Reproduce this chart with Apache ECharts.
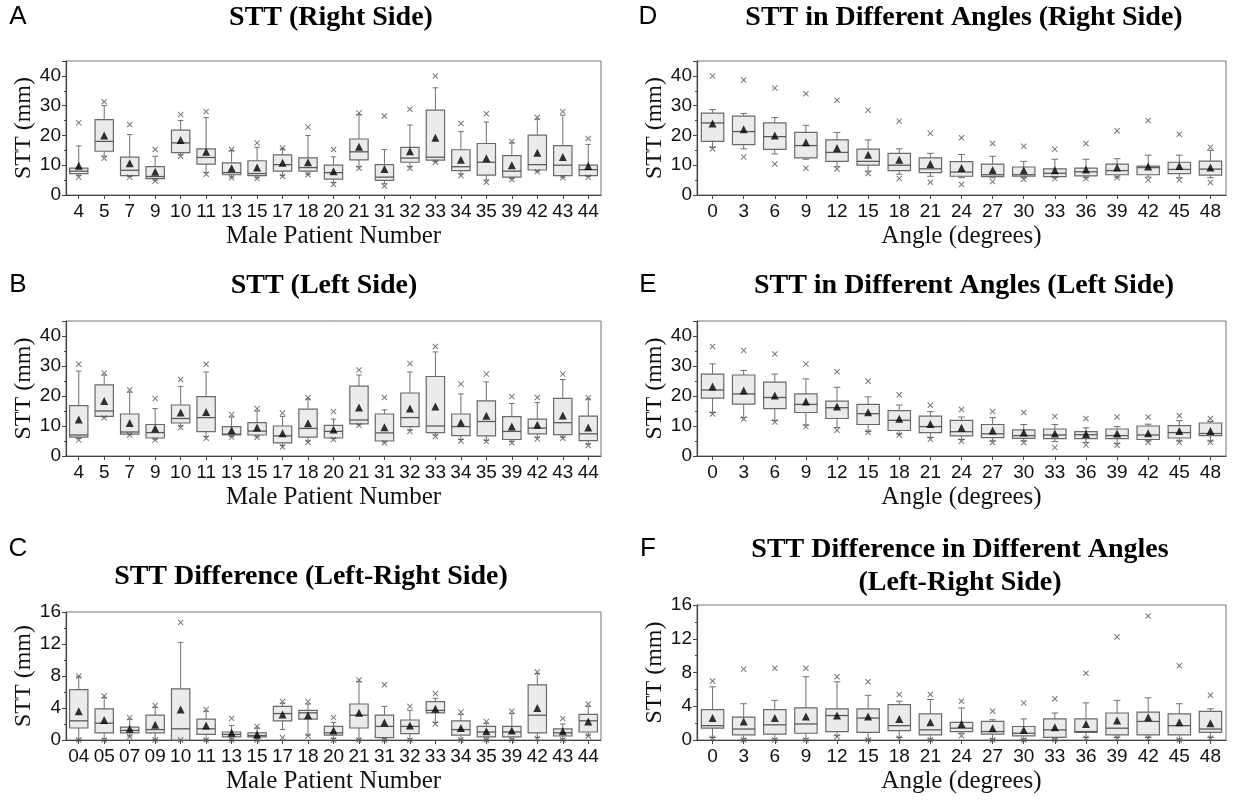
<!DOCTYPE html>
<html><head><meta charset="utf-8">
<script src="https://cdn.jsdelivr.net/npm/echarts@6/dist/echarts.min.js"></script>
<style>html,body{margin:0;padding:0;background:#fff}#c{width:1234px;height:800px}</style>
</head><body><div id="c"></div>
<script>
// ---------- categories ----------
const patients = ['4','5','7','9','10','11','13','15','17','18','20','21','31','32','33','34','35','39','42','43','44'];
const patientsC = ['04','05','07','09','10','11','13','15','17','18','20','21','31','32','33','34','35','39','42','43','44'];
const angles = ['0','3','6','9','12','15','18','21','24','27','30','33','36','39','42','45','48'];

// ---------- Panel A: STT right side [whiskerLow, Q1, median, Q3, whiskerHigh] ----------
const statsA = [[6.5,7.2,8,9,16.5],[13,14.7,18,25.3,30],[6.2,6.5,8.3,12.7,20.3],[5,5.5,6.2,9.5,13],[13.5,14.2,17.5,21.8,25],[7.5,10.4,12.6,15.5,26],[6,6.8,7.5,10.8,15],[5.8,6.5,7.2,11.5,16],[6.5,8,10.2,13.5,15.5],[7,8,9.2,12.5,20],[4.2,5.3,7.5,10,12.8],[9.5,11.8,14.5,18.8,27],[3.8,4.9,6,10.2,15.3],[9.5,11,12.4,16,23.5],[11.2,11.7,12.7,28.5,36],[7,8.2,9.5,15.2,21.3],[5,6.7,11,17.3,24.5],[5.5,6,8,13.2,17.5],[8,8.4,10.2,20.1,25.5],[6,6.5,10,16.6,26.8],[6.2,6.5,8.5,10,17]];
const meanA = [9.8,20,10.7,7.8,18.5,14.5,9,9.2,10.8,11,8,16.2,8.7,14.7,19.2,11.8,12.3,10,14.2,12.8,9.7];
const maxA = [24.3,31.3,23.7,15.3,27,28,15.3,17.5,15.8,22.8,15.3,27.5,26.5,28.8,40,24,27.3,18,26,28,19];
const minA = [6,12.3,6,4.7,13,7,5.8,5.5,6.2,6.8,3.5,9,3,9,11,6.5,4.3,5.2,7.8,5.8,6];

// ---------- Panel B: STT left side ----------
const statsB = [[5.8,6.3,7,16.8,28.3],[13,13.2,15,23.7,27],[7.2,7.3,8,14,21.3],[5.6,6,7.8,10.5,15.8],[10,11,12.5,17,23.2],[6.5,8.1,12.8,19.8,28],[6.5,7,7.3,9.8,13],[6.4,7,8.3,11.1,15],[3.5,4.4,6.7,10,13.2],[5,6.3,9.2,15.6,19],[5.8,6,8.2,10.2,12.3],[10.4,10.7,12,23.3,27],[4.7,5,7.7,14,15.4],[8.6,9.8,12.8,21,28],[7,7.8,10,26.5,34.7],[5.5,6.8,9.8,14,20.7],[5.2,6.7,11.5,18.4,24.7],[4.8,5.5,8.2,13.1,17.5],[6.2,7.4,9.3,12.3,17.8],[6.3,7.1,11.1,19.2,25.5],[4,5.1,7.4,13.3,19]];
const meanB = [12.2,18.3,11,9.2,14.5,14.7,8.6,9.5,7.6,10.9,8.8,16.2,9.6,15.8,16.5,11.2,13.4,9.8,10.4,13.5,9.5];
const maxB = [30.6,27.7,22,19.2,25.5,30.6,13.8,15.8,14.3,19.4,14.8,28.7,19.5,30.8,36.5,24,27.3,19.8,19.5,27.3,19.4];
const minB = [5.3,12.7,7,5.3,9.5,5.9,6.3,6.2,3,4.6,5.5,10.2,4.4,8.2,6.5,5,4.8,4.4,5.7,5.9,3.5];

// ---------- Panel C: STT difference (left-right) ----------
const statsC = [[0.1,1.5,2.4,6.3,7.9],[0.1,0.9,2.1,3.9,5.3],[0.5,0.9,1.2,1.6,2.6],[0.1,0.9,1.3,3.1,4.1],[0,0,1.4,6.4,12.2],[0.1,0.7,1.4,2.6,3.6],[0.1,0.4,0.7,1,1.8],[0.1,0.4,0.55,0.9,1.5],[1.3,2.4,3.3,4.2,4.6],[0.6,2.6,3.4,3.7,4.5],[0.2,0.6,0.9,1.7,2.2],[0.1,1.5,3.1,4.5,7.3],[0.1,0.3,1.7,3.1,4.2],[0.1,0.8,1.7,2.5,3.7],[2.2,3.4,3.7,4.8,5.2],[0.1,0.6,1.3,2.4,3.2],[0.1,0.4,1,1.7,2.1],[0.1,0.4,1,1.7,3.3],[0.3,0.9,3.1,6.9,8.3],[0.1,0.5,0.9,1.4,2],[0.6,1,2.4,3.2,4.2]];
const meanC = [3.6,2.5,1.4,1.9,3.8,1.8,0.9,0.7,3.2,3.1,1.2,3.4,2.2,1.8,3.9,1.5,1.1,1.2,4,1.1,2.3];
const maxC = [8,5.5,2.8,4.3,14.7,3.8,2.7,1.7,4.8,4.8,2.8,7.5,6.9,4.2,5.8,3.5,2.3,3.6,8.5,2.7,4.5];
const minC = [0,0,0.4,0,0,0,0,0,0.3,0.5,0,0,0,0,2,0,0,0,0.2,0,0.5];

// ---------- Panel D: STT by angle, right side ----------
const statsD = [[16,18,24.2,27.5,28.7],[15.5,16.9,21.3,26.5,27.4],[13.8,15.3,19.6,24.2,26],[12,12.5,16.6,21,23.4],[9.5,11.3,14.3,18.5,21],[8,10,11.3,15.4,18.5],[7,8.2,10,14,15.5],[6.3,7.5,8.8,12.5,14],[5.8,6.3,7.7,11.2,13.6],[5.8,6.2,6.8,10.4,13],[5.8,6.3,6.8,9.4,11.3],[5.8,6.2,7.3,8.8,12],[5.8,6.4,7.8,9,12],[6,6.8,8.2,10.4,12.2],[6,6.8,9.2,9.7,13.4],[5.8,7.2,8.6,11,13.4],[5.8,6.7,8.7,11.4,15]];
const meanD = [24,22.1,20,17.7,15.8,13.5,11.8,10.4,9.1,8.4,8.3,8.3,8.6,9.2,9.6,9.7,9.2];
const maxD = [40,38.6,35.9,34,31.8,28.5,24.8,20.7,19.2,17.3,16.4,15.4,17.3,21.6,25,20.4,16];
const minD = [15.5,12.8,10.4,9,8.7,7.2,5.5,4.3,3.5,4.5,5.3,5.5,5.5,5.8,5,5,4.2];

// ---------- Panel E: STT by angle, left side ----------
const statsE = [[14.5,19.3,22,27.3,30.7],[12.8,17.3,20.7,27,28.5],[11.8,15.8,19.5,24.6,27.3],[10.3,14.5,17.2,20.7,25.7],[9.5,12.5,16.1,18.3,22.9],[8.2,10.5,14.1,17.2,19.7],[7.3,8.5,11.9,15.1,17],[6.2,7.8,9.8,13.3,14.8],[5.5,6.7,8.1,11.9,13],[5,6.1,7.4,10.5,12.8],[5,5.9,6.8,8.7,10.5],[4.8,5.8,7,9,10.5],[4.5,5.8,7.1,8.1,9.4],[4.2,5.8,6.8,9,9.8],[5,5.5,7,10,10.6],[5,6,7.8,10.1,11.8],[5,6.8,7.5,11,11.5]];
const meanE = [23.2,21.8,20.2,18.2,16.5,14.6,12.4,10.7,9.4,8.5,7.8,7.5,7.3,7.5,7.6,8.3,8.3];
const maxE = [36.5,35.2,34,30.7,28.1,24.9,20.4,16.9,15.5,14.8,14.5,13.2,12.5,13,13,13.4,12.5];
const minE = [14,12.3,11.3,9.8,8.6,7.9,7,5.6,4.9,4.5,4.5,2.8,3.7,3.6,4.6,4.6,4.6];

// ---------- Panel F: STT difference by angle ----------
const statsF = [[0.3,1.4,1.7,3.6,6.3],[0.1,0.6,1.3,2.7,4.3],[0.1,0.7,1.8,3.6,4.7],[0.1,0.8,1.9,3.8,7.5],[0.5,1,2.9,3.7,6.9],[0.1,0.9,2.6,3.7,5.3],[0.3,1.1,1.7,4.2,4.6],[0.1,0.6,1.2,3.1,4.8],[0.8,1,1.4,2.1,3.8],[0.1,0.7,1,2.2,2.4],[0.1,0.5,0.8,1.6,2.5],[0.1,0.3,1.2,2.5,3.2],[0.3,0.9,1,2.5,4.4],[0.3,0.6,1.4,3.2,4.7],[0.3,0.6,2.2,3.3,5],[0.1,0.6,1.7,3.1,4.3],[0.3,0.9,1.3,3.4,3.7]];
const meanF = [2.6,2.2,2.6,2.8,2.9,2.8,2.5,2.1,1.9,1.4,1.2,1.5,1.9,2.3,2.7,2.1,2];
const maxF = [7,8.4,8.5,8.5,7.5,6.9,5.4,5.4,4.6,3.4,4.4,4.9,7.9,12.2,14.7,8.8,5.3];
const minF = [0.2,0,0,0,0.4,0,0.2,0,0.5,0,0,0,0.2,0.2,0.2,0,0.2];

// ---------- tick values ----------
const yTicksMain = [0,10,20,30,40];
const yTicksDiff = [0,4,8,12,16];

// ---------- rendering ----------
const SERIF = '"Liberation Serif","Times New Roman",serif';
const SANS = '"Liberation Sans",Arial,sans-serif';
const grids = [
  {left:66, top:61, width:535, height:134},
  {left:66, top:321, width:535, height:135},
  {left:66, top:612, width:535, height:128},
  {left:697, top:61, width:529, height:134},
  {left:697, top:321, width:529, height:135},
  {left:697, top:605, width:529, height:135}
];
const panels = [
  {cats:patients, stats:statsA, mean:meanA, max:maxA, min:minA, ymax:45, step:10, xname:'Male Patient Number'},
  {cats:patients, stats:statsB, mean:meanB, max:maxB, min:minB, ymax:45, step:10, xname:'Male Patient Number'},
  {cats:patientsC, stats:statsC, mean:meanC, max:maxC, min:minC, ymax:16, step:4, xname:'Male Patient Number'},
  {cats:angles, stats:statsD, mean:meanD, max:maxD, min:minD, ymax:45, step:10, xname:'Angle (degrees)'},
  {cats:angles, stats:statsE, mean:meanE, max:maxE, min:minE, ymax:45, step:10, xname:'Angle (degrees)'},
  {cats:angles, stats:statsF, mean:meanF, max:maxF, min:minF, ymax:16, step:4, xname:'Angle (degrees)'}
];

function renderBox(params, api){
  const i = api.value(0);
  const p = [1,2,3,4,5].map(k => api.coord([i, api.value(k)]));
  const x = p[0][0];
  const bw = api.size([1,0])[0]*0.72;
  const cw = bw*0.3;
  const ls = {stroke:'#707070', lineWidth:1};
  return {type:'group', children:[
    {type:'line', shape:{x1:x,y1:p[4][1],x2:x,y2:p[3][1]}, style:ls},
    {type:'line', shape:{x1:x,y1:p[1][1],x2:x,y2:p[0][1]}, style:ls},
    {type:'line', shape:{x1:x-cw/2,y1:p[4][1],x2:x+cw/2,y2:p[4][1]}, style:ls},
    {type:'line', shape:{x1:x-cw/2,y1:p[0][1],x2:x+cw/2,y2:p[0][1]}, style:ls},
    {type:'rect', shape:{x:x-bw/2,y:p[3][1],width:bw,height:p[1][1]-p[3][1]}, style:{fill:'#ebebeb', stroke:'#6a6a6a', lineWidth:1.2}},
    {type:'line', shape:{x1:x-bw/2,y1:p[2][1],x2:x+bw/2,y2:p[2][1]}, style:{stroke:'#5a5a5a', lineWidth:1.3}}
  ]};
}
const XSYM = 'path://M0,1.2L1.2,0L5,3.8L8.8,0L10,1.2L6.2,5L10,8.8L8.8,10L5,6.2L1.2,10L0,8.8L3.8,5Z';

const xAxis=[], yAxis=[], series=[];
panels.forEach((pn, g) => {
  xAxis.push({type:'category', gridIndex:g, data:pn.cats, boundaryGap:true,
    name:pn.xname, nameLocation:'middle', nameGap:29,
    nameTextStyle:{fontFamily:SERIF, fontSize:25, color:'#111'},
    axisLine:{lineStyle:{color:'#444', width:1.2}},
    axisTick:{show:true, alignWithLabel:true, length:4, lineStyle:{color:'#444'}},
    axisLabel:{interval:0, fontFamily:SANS, fontSize:19, color:'#111', margin:7}});
  yAxis.push({type:'value', gridIndex:g, min:0, max:pn.ymax, interval:pn.step,
    name:'STT (mm)', nameLocation:'middle', nameGap:30,
    nameTextStyle:{fontFamily:SERIF, fontSize:24, color:'#111'},
    axisLine:{show:true, lineStyle:{color:'#444', width:1.2}},
    axisTick:{show:true, length:4, lineStyle:{color:'#444'}},
    minorTick:{show:true, splitNumber:2, length:2, lineStyle:{color:'#444'}},
    splitLine:{show:false},
    axisLabel:{fontFamily:SANS, fontSize:19, color:'#111', margin:5, showMaxLabel: pn.ymax % pn.step === 0,
      formatter: v => (v % pn.step === 0 ? String(v) : '')}});
  series.push({type:'custom', xAxisIndex:g, yAxisIndex:g, renderItem:renderBox,
    encode:{x:0, y:[1,2,3,4,5]}, data: pn.stats.map((r,i)=>[i].concat(r)), z:2});
  series.push({type:'scatter', xAxisIndex:g, yAxisIndex:g, symbol:'triangle', symbolSize:8,
    itemStyle:{color:'#000'}, data: pn.mean.map((v,i)=>[i,v]), z:4});
  series.push({type:'scatter', xAxisIndex:g, yAxisIndex:g, symbol:XSYM, symbolSize:6,
    itemStyle:{color:'#555'}, data: pn.max.map((v,i)=>[i,v]), z:3});
  series.push({type:'scatter', xAxisIndex:g, yAxisIndex:g, symbol:XSYM, symbolSize:6,
    itemStyle:{color:'#555'}, data: pn.min.map((v,i)=>[i,v]), z:3});
});

function txt(t, x, y, font){
  return {type:'text', x:x, y:y, style:{text:t, font:font, fill:'#000', align:'center', verticalAlign:'middle'}};
}
const TF = 'bold 28px ' + SERIF;
const LF = '26px ' + SANS;
const graphic = [
  txt('A',18,17,LF), txt('B',18,285,LF), txt('C',18,549,LF),
  txt('D',648,17,LF), txt('E',648,285,LF), txt('F',648,549,LF),
  txt('STT (Right Side)',331,18,TF),
  txt('STT (Left Side)',324,286,TF),
  txt('STT Difference (Left-Right Side)',311,577,TF),
  txt('STT in Different Angles (Right Side)',964,18,TF),
  txt('STT in Different Angles (Left Side)',964,286,TF),
  txt('STT Difference in Different Angles',960,550,TF),
  txt('(Left-Right Side)',960,583,TF)
];

const chart = echarts.init(document.getElementById('c'), null, {renderer:'canvas'});
chart.setOption({
  animation:false,
  backgroundColor:'#fff',
  grid: grids.map(g => Object.assign({show:true, borderColor:'#777', borderWidth:1, backgroundColor:'transparent'}, g)),
  xAxis, yAxis, series, graphic
});
</script></body></html>
